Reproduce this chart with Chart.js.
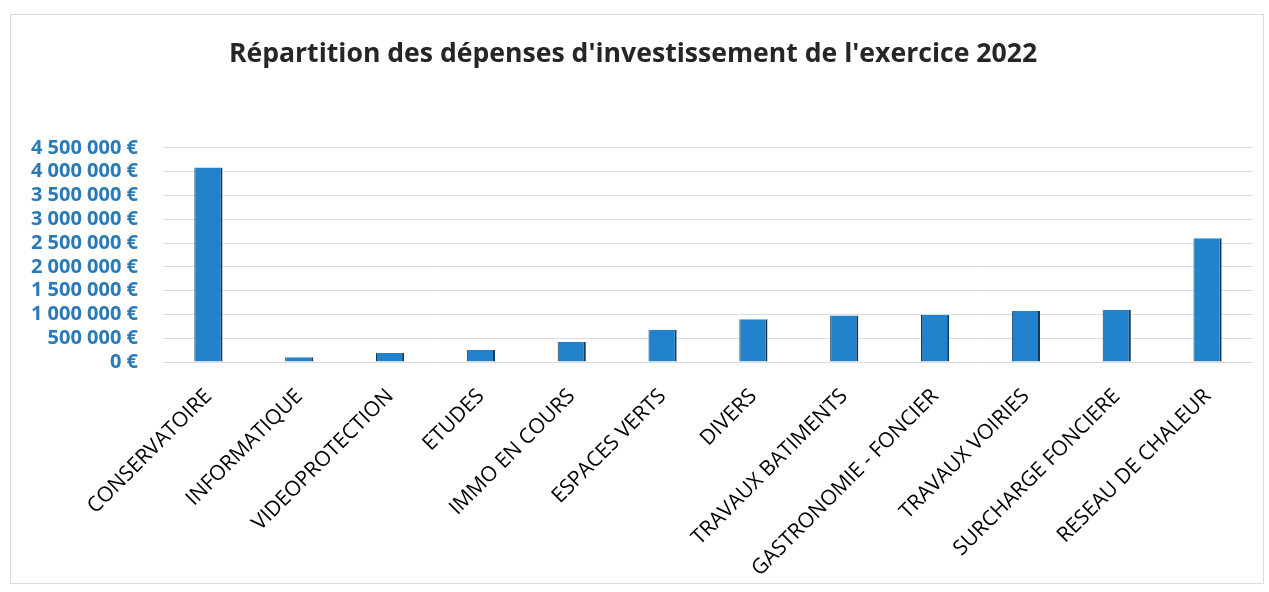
<!DOCTYPE html>
<html>
<head>
<meta charset="utf-8">
<script src="https://cdn.jsdelivr.net/npm/chart.js@4.4.1/dist/chart.umd.min.js"></script>
<style>
  html, body { margin: 0; padding: 0; background: #ffffff; }
  #wrap { position: relative; width: 1269px; height: 592px; }
  #frame { position: absolute; left: 10px; top: 14px; width: 1254px; height: 570px; border: 1px solid #dcdcdc; box-sizing: border-box; }
  canvas { position: absolute; left: 0; top: 0; }
</style>
</head>
<body>
<div id="wrap">
  <div id="frame"></div>
  <canvas id="c" width="1269" height="592"></canvas>
</div>
<script>
const titleText = "Répartition des dépenses d'investissement de l'exercice 2022";
const categories = [
  "CONSERVATOIRE", "INFORMATIQUE", "VIDEOPROTECTION", "ETUDES", "IMMO EN COURS",
  "ESPACES VERTS", "DIVERS", "TRAVAUX BATIMENTS", "GASTRONOMIE - FONCIER",
  "TRAVAUX VOIRIES", "SURCHARGE FONCIERE", "RESEAU DE CHALEUR"
];
const values = [
  4090000, 100000, 190000, 250000, 420000,
  680000, 900000, 980000, 990000,
  1070000, 1100000, 2600000
];
const yMax = 4500000;
const yStep = 500000;

function fmtEuro(v) {
  const s = Math.round(v).toString().replace(/\B(?=(\d{3})+(?!\d))/g, " ");
  return s + " €";
}

new Chart(document.getElementById("c"), {
  type: "bar",
  data: {
    labels: categories,
    datasets: [{
      data: values,
      backgroundColor: "#2282cb",
      borderColor: "#12385a",
      borderWidth: { top: 0, right: 2, bottom: 0, left: 1 },
      borderSkipped: false,
      barPercentage: 0.62,
      categoryPercentage: 0.5
    }]
  },
  options: {
    responsive: false,
    animation: false,
    layout: { padding: { left: 13, right: 16, top: 0, bottom: 0 } },
    plugins: {
      legend: { display: false },
      tooltip: { enabled: false },
      title: {
        display: true,
        text: titleText,
        color: "#262626",
        font: { family: "Open Sans", size: 26.6, weight: "bold" },
        padding: { top: 38, bottom: 78 }
      }
    },
    scales: {
      x: {
        grid: { display: false, drawTicks: false },
        border: { display: false },
        ticks: {
          color: "#000000",
          font: { family: "Open Sans", size: 21 },
          minRotation: 45,
          maxRotation: 45,
          autoSkip: false,
          padding: 22
        },
        afterFit: (s) => { s.height = 230; }
      },
      y: {
        min: 0,
        max: yMax,
        grid: { color: "#dedede", drawTicks: false, lineWidth: 1 },
        border: { display: false },
        ticks: {
          stepSize: yStep,
          autoSkip: false,
          color: "#2a7ab8",
          font: { family: "Open Sans", size: 20, weight: "bold", lineHeight: 1 },
          padding: 25,
          callback: (v) => fmtEuro(v)
        },
        afterFit: (s) => { s.width = 150; }
      }
    }
  }
});
</script>
</body>
</html>
